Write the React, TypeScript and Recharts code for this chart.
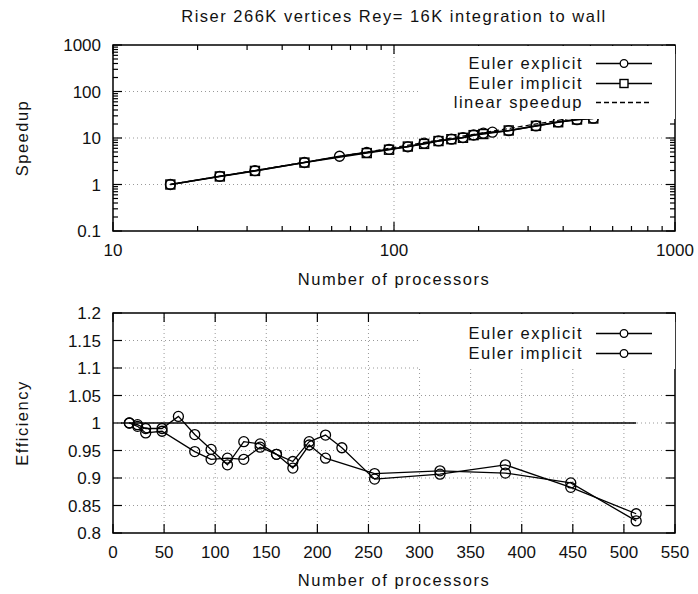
import React from 'react'
import { LineChart, Line, XAxis, YAxis, CartesianGrid, ReferenceArea, Legend } from 'recharts'

const FONT = '"Liberation Sans", Arial, Helvetica, sans-serif'

// --- speedup panel (log-log) ---
const explicitProcs = [16, 24, 32, 48, 64, 80, 96, 112, 128, 144, 160, 176, 192, 208, 224, 256, 320, 384, 448, 512]
const explicitSpeedup = [1.0, 1.5, 1.98, 2.97, 4.05, 4.9, 5.71, 6.47, 7.73, 8.66, 9.43, 10.23, 11.59, 12.71, 13.37, 14.37, 18.14, 22.18, 24.72, 26.72]
const implicitProcs = [16, 24, 32, 48, 80, 96, 112, 128, 144, 160, 176, 192, 208, 256, 320, 384, 448, 512]
const implicitSpeedup = [1.0, 1.49, 1.96, 2.96, 4.74, 5.6, 6.55, 7.47, 8.6, 9.43, 10.1, 11.52, 12.17, 14.53, 18.26, 21.82, 24.95, 26.3]
const linearProcs = [16, 512]
const linearSpeedup = [1, 32]

// --- efficiency panel ---
const explicitEff = [1.0, 0.997, 0.99, 0.99, 1.012, 0.979, 0.952, 0.924, 0.966, 0.962, 0.943, 0.93, 0.966, 0.978, 0.955, 0.898, 0.907, 0.924, 0.883, 0.835]
const implicitEff = [1.0, 0.994, 0.982, 0.985, 0.948, 0.934, 0.936, 0.934, 0.956, 0.943, 0.918, 0.96, 0.936, 0.908, 0.913, 0.909, 0.891, 0.822]
const idealProcs = [8, 512]
const idealEff = [1, 1]

// ticks
const logXMajor = [10, 100, 1000]
const logXMinor = [20, 30, 40, 50, 60, 70, 80, 90, 200, 300, 400, 500, 600, 700, 800, 900]
const logYMajor = [0.1, 1, 10, 100, 1000]
const logYMinor = [0.2, 0.3, 0.4, 0.5, 0.6, 0.7, 0.8, 0.9, 2, 3, 4, 5, 6, 7, 8, 9, 20, 30, 40, 50, 60, 70, 80, 90, 200, 300, 400, 500, 600, 700, 800, 900]
const effXTicks = [0, 50, 100, 150, 200, 250, 300, 350, 400, 450, 500, 550]
const effYTicks = [0.8, 0.85, 0.9, 0.95, 1, 1.05, 1.1, 1.15, 1.2]

const rows = (xs: number[], ys: number[]) => xs.map((p, i) => ({ p, v: ys[i] }))

const W = 698
const H = 297
const PLOT_RIGHT = 675
const TOP1 = 45
const TOP2 = 16
const LABEL_SIZE = 16.5
const LABEL_SPACING = '1.5px'

function makeXTick(top: number, majors: number[]) {
  return (props: any) => {
    const { x, y, payload, index } = props
    const v = payload.value
    const major = majors.includes(v)
    const len = major ? 9 : 5
    return (
      <g key={`xt-${index}`}>
        <line x1={x} x2={x} y1={y} y2={y - len} stroke="#000" strokeWidth={1.2} />
        <line x1={x} x2={x} y1={top} y2={top + len} stroke="#000" strokeWidth={1.2} />
        {major && (
          <text x={x} y={y + 25} textAnchor="middle" fontSize={17} fill="#111">
            {v}
          </text>
        )}
      </g>
    )
  }
}

function makeYTick(majors: number[]) {
  return (props: any) => {
    const { x, y, payload, index } = props
    const v = payload.value
    const major = majors.includes(v)
    const len = major ? 9 : 5
    return (
      <g key={`yt-${index}`}>
        <line x1={x} x2={x + len} y1={y} y2={y} stroke="#000" strokeWidth={1.2} />
        <line x1={PLOT_RIGHT} x2={PLOT_RIGHT - len} y1={y} y2={y} stroke="#000" strokeWidth={1.2} />
        {major && (
          <text x={x - 12} y={y} dy="0.36em" textAnchor="end" fontSize={17} fill="#111">
            {v}
          </text>
        )}
      </g>
    )
  }
}

const circleDot = (p: any) => (
  <circle key={`c-${p.index}`} cx={p.cx} cy={p.cy} r={5} fill="none" stroke="#000" strokeWidth={1.3} />
)
const squareDot = (p: any) => (
  <rect key={`s-${p.index}`} x={p.cx - 4.5} y={p.cy - 4.5} width={9} height={9} fill="none" stroke="#000" strokeWidth={1.4} />
)

type KeyRow = { label: string; marker: 'circle' | 'square' | 'none'; dash?: string }

function makeKey(items: KeyRow[], padTop: number) {
  return () => (
    <div style={{ background: '#fff', width: 257, paddingTop: padTop, paddingBottom: 6 }}>
      {items.map((r) => (
        <div key={r.label} style={{ display: 'flex', justifyContent: 'flex-end', alignItems: 'center', height: 19.5 }}>
          <span style={{ fontSize: LABEL_SIZE, letterSpacing: LABEL_SPACING, color: '#111', lineHeight: '19.5px', whiteSpace: 'nowrap' }}>
            {r.label}
          </span>
          <svg width={92} height={19} style={{ display: 'block' }}>
            <line x1={13} x2={69} y1={9.5} y2={9.5} stroke="#000" strokeWidth={1.3} strokeDasharray={r.dash} />
            {r.marker === 'circle' && <circle cx={41} cy={9.5} r={3.8} fill="#fff" stroke="#000" strokeWidth={1.3} />}
            {r.marker === 'square' && <rect x={37} y={5.5} width={8} height={8} fill="#fff" stroke="#000" strokeWidth={1.4} />}
          </svg>
        </div>
      ))}
    </div>
  )
}

const speedupKey: KeyRow[] = [
  { label: 'Euler explicit', marker: 'circle' },
  { label: 'Euler implicit', marker: 'square' },
  { label: 'linear speedup', marker: 'none', dash: '5 3' },
]
const effKey: KeyRow[] = [
  { label: 'Euler explicit', marker: 'circle' },
  { label: 'Euler implicit', marker: 'circle' },
]

function SpeedupChart() {
  return (
    <LineChart width={W} height={H} margin={{ top: TOP1, right: 23, bottom: 26, left: 53 }}>
      <CartesianGrid horizontalValues={[1, 10, 100]} verticalValues={[100]} stroke="#999" strokeDasharray="1 3" />
      <XAxis
        dataKey="p"
        type="number"
        scale="log"
        domain={[10, 1000]}
        allowDataOverflow
        ticks={[...logXMajor, ...logXMinor]}
        interval={0}
        height={40}
        tickSize={0}
        tickMargin={0}
        tickLine={false}
        axisLine={false}
        tick={makeXTick(TOP1, logXMajor)}
      />
      <YAxis
        type="number"
        scale="log"
        domain={[0.1, 1000]}
        allowDataOverflow
        ticks={[...logYMajor, ...logYMinor]}
        interval={0}
        width={60}
        tickSize={0}
        tickMargin={0}
        tickLine={false}
        axisLine={false}
        tick={makeYTick(logYMajor)}
      />
      <ReferenceArea x1={10} x2={1000} y1={0.1} y2={1000} fill="none" stroke="#000" strokeWidth={1.5} />
      <Line data={rows(linearProcs, linearSpeedup)} dataKey="v" stroke="#000" strokeWidth={1.2} strokeDasharray="5 3" dot={false} isAnimationActive={false} />
      <Line data={rows(explicitProcs, explicitSpeedup)} dataKey="v" stroke="#000" strokeWidth={1.6} dot={circleDot} isAnimationActive={false} />
      <Line data={rows(implicitProcs, implicitSpeedup)} dataKey="v" stroke="#000" strokeWidth={1.6} dot={squareDot} isAnimationActive={false} />
      <Legend
        layout="horizontal"
        verticalAlign="middle"
        align="center"
        content={makeKey(speedupKey, 8)}
        wrapperStyle={{ left: 418, top: TOP1 + 1, width: 257, height: 'auto' }}
      />
    </LineChart>
  )
}

function EfficiencyChart() {
  return (
    <LineChart width={W} height={H} margin={{ top: TOP2, right: 23, bottom: 21, left: 53 }}>
      <CartesianGrid
        horizontalValues={[0.85, 0.9, 0.95, 1, 1.05, 1.1, 1.15]}
        verticalValues={[50, 100, 150, 200, 250, 300, 350, 400, 450, 500]}
        stroke="#999"
        strokeDasharray="1 3"
      />
      <XAxis
        dataKey="p"
        type="number"
        domain={[0, 550]}
        allowDataOverflow
        ticks={effXTicks}
        interval={0}
        height={40}
        tickSize={0}
        tickMargin={0}
        tickLine={false}
        axisLine={false}
        tick={makeXTick(TOP2, effXTicks)}
      />
      <YAxis
        type="number"
        domain={[0.8, 1.2]}
        allowDataOverflow
        ticks={effYTicks}
        interval={0}
        width={60}
        tickSize={0}
        tickMargin={0}
        tickLine={false}
        axisLine={false}
        tick={makeYTick(effYTicks)}
      />
      <ReferenceArea x1={0} x2={550} y1={0.8} y2={1.2} fill="none" stroke="#000" strokeWidth={1.5} />
      <Line data={rows(idealProcs, idealEff)} dataKey="v" stroke="#000" strokeWidth={1.3} dot={false} isAnimationActive={false} />
      <Line data={rows(explicitProcs, explicitEff)} dataKey="v" stroke="#000" strokeWidth={1.3} dot={circleDot} isAnimationActive={false} />
      <Line data={rows(implicitProcs, implicitEff)} dataKey="v" stroke="#000" strokeWidth={1.3} dot={circleDot} isAnimationActive={false} />
      <Legend
        layout="horizontal"
        verticalAlign="middle"
        align="center"
        content={makeKey(effKey, 10)}
        wrapperStyle={{ left: 418, top: TOP2 + 1, width: 257, height: 'auto' }}
      />
    </LineChart>
  )
}

export default function App() {
  return (
    <div style={{ position: 'relative', width: W, height: 594, fontFamily: FONT, background: '#fff' }}>
      <style>{'body { margin: 0; }'}</style>
      <div style={{ position: 'absolute', left: 0, top: 0 }}>
        <SpeedupChart />
      </div>
      <div style={{ position: 'absolute', left: 0, top: H }}>
        <EfficiencyChart />
      </div>
      <svg width={W} height={594} style={{ position: 'absolute', left: 0, top: 0, pointerEvents: 'none' }}>
        <g fill="#111" fontSize={LABEL_SIZE} letterSpacing={LABEL_SPACING} textAnchor="middle">
          <text x={394} y={22}>Riser 266K vertices Rey= 16K integration to wall</text>
          <text x={394} y={285}>Number of processors</text>
          <text x={394} y={586}>Number of processors</text>
          <text transform="translate(28,138) rotate(-90)">Speedup</text>
          <text transform="translate(28,423) rotate(-90)">Efficiency</text>
        </g>
      </svg>
    </div>
  )
}
